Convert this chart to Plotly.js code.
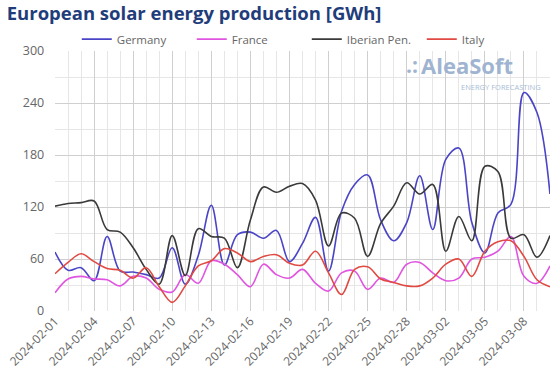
<!DOCTYPE html>
<html>
<head>
<meta charset="utf-8">
<script src="https://cdn.plot.ly/plotly-3.0.1.min.js"></script>
<style>html,body{margin:0;padding:0;background:#fff;}#chart{width:560px;height:385px;}</style>
</head>
<body>
<div id="chart"></div>
<script>
const dates = [
  "2024-02-01","2024-02-02","2024-02-03","2024-02-04","2024-02-05","2024-02-06","2024-02-07","2024-02-08",
  "2024-02-09","2024-02-10","2024-02-11","2024-02-12","2024-02-13","2024-02-14","2024-02-15","2024-02-16",
  "2024-02-17","2024-02-18","2024-02-19","2024-02-20","2024-02-21","2024-02-22","2024-02-23","2024-02-24",
  "2024-02-25","2024-02-26","2024-02-27","2024-02-28","2024-02-29","2024-03-01","2024-03-02","2024-03-03",
  "2024-03-04","2024-03-05","2024-03-06","2024-03-07","2024-03-08","2024-03-09","2024-03-10"
];
const germany = [68,47,50,35,86,46,45,42,38,73,31,64,122,53,88,91,84,93,57,78,108,46,115,146,157,105,81,102,156,94,175,188,102,67,113,123,252,229,135];
const france  = [21,37,40,37,36,29,40,38,25,22,42,32,58,54,42,28,54,42,38,48,32,23,44,46,25,38,33,54,56,44,35,38,60,62,69,86,40,32,52];
const iberian = [121,124,125,127,94,91,73,48,31,87,41,95,86,84,50,105,143,137,144,147,128,75,113,107,63,101,121,148,135,146,69,109,81,167,161,84,88,62,87];
const italy   = [43,56,66,57,49,47,38,50,28,10,29,52,58,72,67,57,63,65,55,53,69,44,19,48,51,37,33,29,29,38,54,60,40,69,80,81,63,36,28];

const names  = ["Germany","France","Iberian Pen.","Italy"];
const series = [germany, france, iberian, italy];
const colors = ["#4a45c6","#e055e0","#3a3a3a","#e04a42"];

const traces = series.map((s,i)=>({
  x: dates, y: s, name: names[i], type: "scatter", mode: "lines",
  line: {color: colors[i], width: 1.6, shape: "spline", smoothing: 1},
  hoverinfo: "skip"
}));

const font = "'Open Sans', 'Noto Sans', sans-serif";
const layout = {
  width: 560, height: 385,
  margin: {l: 55, r: 10, t: 51, b: 74, autoexpand: false},
  paper_bgcolor: "#fff", plot_bgcolor: "#fff",
  title: {text: "<b>European solar energy production [GWh]</b>", x: 0.012, xanchor: "left", y: 0.965, yanchor: "middle",
          font: {family: font, size: 18.5, color: "#1f3d7a"}},
  showlegend: true,
  legend: {orientation: "h", x: 0.044, xanchor: "left", y: 0.99, yanchor: "bottom",
           font: {family: font, size: 11.5, color: "#666"}, entrywidth: 70, entrywidthmode: "pixels",
           itemwidth: 30, tracegroupgap: 0, bgcolor: "rgba(0,0,0,0)"},
  xaxis: {
    type: "date", range: ["2024-02-01", "2024-03-10"],
    tick0: "2024-02-01", dtick: 3*86400000, tickformat: "%Y-%m-%d", tickangle: -45,
    tickfont: {family: font, size: 12, color: "#666"},
    showgrid: true, gridcolor: "#cfcfcf", gridwidth: 1,
    minor: {dtick: 86400000, tick0: "2024-02-01", showgrid: true, gridcolor: "#e6e6e6", gridwidth: 1},
    zeroline: false, showline: false, ticks: "", fixedrange: true
  },
  yaxis: {
    range: [0, 300], dtick: 60, tick0: 0,
    tickfont: {family: font, size: 12.5, color: "#666"},
    showgrid: true, gridcolor: "#cfcfcf", gridwidth: 1,
    minor: {dtick: 30, showgrid: true, gridcolor: "#e6e6e6", gridwidth: 1},
    zeroline: false, showline: false, ticks: "", ticksuffix: "   ", fixedrange: true
  },
  annotations: [
    {xref: "paper", yref: "paper", x: 0.705, y: 0.945, xanchor: "left", yanchor: "middle", showarrow: false,
     text: "<b>.:</b>", font: {family: font, size: 21, color: "#9fb4d0"}},
    {xref: "paper", yref: "paper", x: 0.735, y: 0.945, xanchor: "left", yanchor: "middle", showarrow: false,
     text: "<b>AleaSoft</b>", font: {family: font, size: 22, color: "#9fb4d0"}},
    {xref: "paper", yref: "paper", x: 0.985, y: 0.86, xanchor: "right", yanchor: "middle", showarrow: false,
     text: "ENERGY FORECASTING", font: {family: font, size: 7.5, color: "#a9bcd6"}}
  ]
};

Plotly.newPlot("chart", traces, layout, {staticPlot: true, displayModeBar: false});
</script>
</body>
</html>
